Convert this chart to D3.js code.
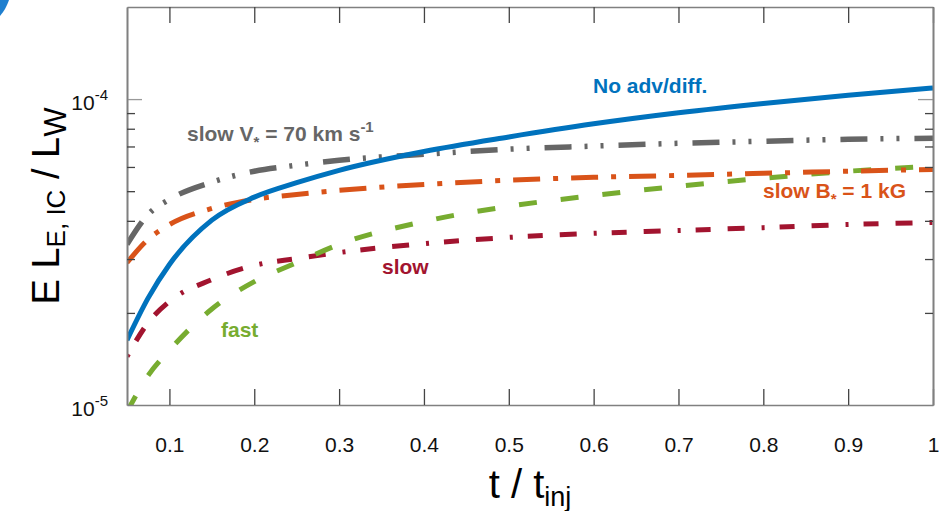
<!DOCTYPE html>
<html>
<head>
<meta charset="utf-8">
<script src="https://cdn.jsdelivr.net/npm/d3@7"></script>
<style>
  body { margin: 0; background: #fff; }
  svg text { font-family: "Liberation Sans", Arial, sans-serif; }
  .narrow { font-family: "Liberation Sans Narrow", "Arial Narrow", "Liberation Sans", sans-serif; }
</style>
</head>
<body>
<div id="chart"></div>
<script>
// time axis (t / t_inj) and the five curves
const tValues = [0.05, 0.075, 0.1, 0.15, 0.2, 0.25, 0.3, 0.4, 0.5, 0.6, 0.7, 0.8, 0.9, 1.0];
const noAdvDiff = [1.63e-5, 2.24e-5, 2.88e-5, 4.02e-5, 4.78e-5, 5.33e-5, 5.85e-5, 6.74e-5, 7.52e-5, 8.30e-5, 9.02e-5, 9.68e-5, 1.030e-4, 1.087e-4];
const slowV70 = [3.35e-5, 4.20e-5, 4.70e-5, 5.35e-5, 5.81e-5, 6.08e-5, 6.31e-5, 6.60e-5, 6.86e-5, 7.02e-5, 7.17e-5, 7.28e-5, 7.39e-5, 7.45e-5];
const slowB1kG = [2.92e-5, 3.48e-5, 3.89e-5, 4.39e-5, 4.70e-5, 4.88e-5, 5.03e-5, 5.26e-5, 5.43e-5, 5.55e-5, 5.63e-5, 5.72e-5, 5.81e-5, 5.89e-5];
const slow = [1.44e-5, 1.86e-5, 2.18e-5, 2.57e-5, 2.86e-5, 3.01e-5, 3.15e-5, 3.37e-5, 3.53e-5, 3.64e-5, 3.72e-5, 3.80e-5, 3.89e-5, 3.95e-5];
const fast = [9.5e-6, 1.25e-5, 1.51e-5, 2.06e-5, 2.53e-5, 2.92e-5, 3.35e-5, 3.98e-5, 4.46e-5, 4.84e-5, 5.19e-5, 5.51e-5, 5.81e-5, 6.03e-5];

const xTicks = [0.1, 0.2, 0.3, 0.4, 0.5, 0.6, 0.7, 0.8, 0.9, 1];
const xTickLabels = ["0.1", "0.2", "0.3", "0.4", "0.5", "0.6", "0.7", "0.8", "0.9", "1"];
const yMajor = [1e-5, 1e-4];
const yMajorLabels = [["10", "-5"], ["10", "-4"]];
const yMinor = [2e-5, 3e-5, 4e-5, 5e-5, 6e-5, 7e-5, 8e-5, 9e-5];

const series = [
  { name: "slow", values: slow, color: "#A2142F", dash: "3,15,15,17,17,17" },
  { name: "fast", values: fast, color: "#77AC30", dash: "18,24" },
  { name: "slowB", values: slowB1kG, color: "#D95319", dash: "27,13,5,13" },
  { name: "slowV", values: slowV70, color: "#666666", dash: "27,13,3,13,3,15" },
  { name: "noAdv", values: noAdvDiff, color: "#0072BD", dash: null }
];

const W = 939, H = 511;
const plot = { left: 127, right: 933, top: 7, bottom: 405 };

const svg = d3.select("#chart").append("svg")
    .attr("width", W)
    .attr("height", H);

const x = d3.scaleLinear().domain([0.05, 1]).range([plot.left, plot.right]);
const y = d3.scaleLog().domain([1e-5, 2e-4]).range([plot.bottom, plot.top]);

// stray blue corner from the slide
svg.append("path")
    .attr("d", "M0,0 L9,0 Q6,9 0,16 Z")
    .attr("fill", "#1f7fcf");

svg.append("clipPath").attr("id", "plot-clip")
  .append("rect")
    .attr("x", plot.left).attr("y", plot.top)
    .attr("width", plot.right - plot.left).attr("height", plot.bottom - plot.top);

// curves
const line = d3.line()
    .x((d, i) => x(tValues[i]))
    .y(d => y(d))
    .curve(d3.curveMonotoneX);

svg.append("g").attr("clip-path", "url(#plot-clip)")
  .selectAll("path")
  .data(series)
  .enter().append("path")
    .attr("d", d => line(d.values))
    .attr("fill", "none")
    .attr("stroke", d => d.color)
    .attr("stroke-width", d => d.name === "slowV" ? 5.5 : 5)
    .attr("stroke-dasharray", d => d.dash);

// axes, ticks pointing inward
function styleAxis(g) {
  g.select(".domain").attr("stroke", "#808080").attr("stroke-width", 1.6);
  g.selectAll(".tick line").attr("stroke", "#444").attr("stroke-width", 1.3);
}

svg.append("g")
    .attr("transform", `translate(0,${plot.bottom})`)
    .call(d3.axisBottom(x).tickValues(xTicks).tickSize(-16).tickSizeOuter(0).tickPadding(32)
      .tickFormat((d, i) => xTickLabels[i]))
    .call(styleAxis)
    .call(g => g.selectAll("text").attr("class", "narrow").attr("font-size", 21).attr("fill", "#111"));

svg.append("g")
    .attr("transform", `translate(0,${plot.top})`)
    .call(d3.axisTop(x).tickValues(xTicks).tickSize(-16).tickSizeOuter(0).tickFormat(""))
    .call(styleAxis);

[[plot.left, d3.axisLeft], [plot.right, d3.axisRight]].forEach(([pos, axisFn]) => {
  svg.append("g")
      .attr("transform", `translate(${pos},0)`)
      .call(axisFn(y).tickValues([1e-4]).tickSize(-15).tickSizeOuter(0).tickFormat(""))
      .call(styleAxis)
      .call(g => g.selectAll(".tick line").attr("stroke", "#999"));
  svg.append("g")
      .attr("transform", `translate(${pos},0)`)
      .call(axisFn(y).tickValues(yMinor).tickSize(-8).tickSizeOuter(0).tickFormat(""))
      .call(styleAxis);
});

// y tick labels with exponents
svg.append("g").selectAll("text")
  .data(yMajor)
  .enter().append("text")
    .attr("x", 108)
    .attr("y", d => y(d) + 11)
    .attr("text-anchor", "end")
    .attr("font-size", 21)
    .attr("fill", "#111")
    .each(function(d, i) {
      const t = d3.select(this);
      t.append("tspan").text(yMajorLabels[i][0]);
      t.append("tspan").attr("font-size", 15).attr("dy", -10).text(yMajorLabels[i][1]);
    });

// axis titles
const xTitle = svg.append("text")
    .attr("class", "narrow")
    .attr("x", 530)
    .attr("y", 498)
    .attr("text-anchor", "middle")
    .attr("font-size", 40)
    .attr("fill", "#000");
xTitle.append("tspan").text("t /  t");
xTitle.append("tspan").attr("font-size", 27).attr("dy", 8).text("inj");

const yTitle = svg.append("text")
    .attr("transform", "translate(59,206) rotate(-90)")
    .attr("text-anchor", "middle")
    .attr("font-size", 38)
    .attr("fill", "#000");
yTitle.append("tspan").text("E L");
yTitle.append("tspan").attr("font-size", 26).attr("dy", 6).text("E, IC");
yTitle.append("tspan").attr("dy", -6).text(" /  L");
yTitle.append("tspan").attr("font-size", 31).attr("dy", 7).text("W");

// curve labels
function label(xp, yp, color, parts) {
  const t = svg.append("text")
      .attr("x", xp).attr("y", yp)
      .attr("font-size", 21)
      .attr("font-weight", "bold")
      .attr("fill", color);
  parts.forEach(p => {
    const s = t.append("tspan").text(p.text);
    if (p.size) s.attr("font-size", p.size);
    if (p.dy) s.attr("dy", p.dy);
  });
}

label(593, 93, "#0072BD", [{ text: "No adv/diff." }]);
label(187, 141, "#666666", [
  { text: "slow V" }, { text: "*", size: 15, dy: 6 }, { text: " = 70 km s", dy: -6 }, { text: "-1", size: 15, dy: -9 }
]);
label(763, 198, "#D95319", [
  { text: "slow B" }, { text: "*", size: 15, dy: 6 }, { text: " = 1 kG", dy: -6 }
]);
label(382, 274, "#A2142F", [{ text: "slow" }]);
label(221, 337, "#77AC30", [{ text: "fast" }]);
</script>
</body>
</html>
